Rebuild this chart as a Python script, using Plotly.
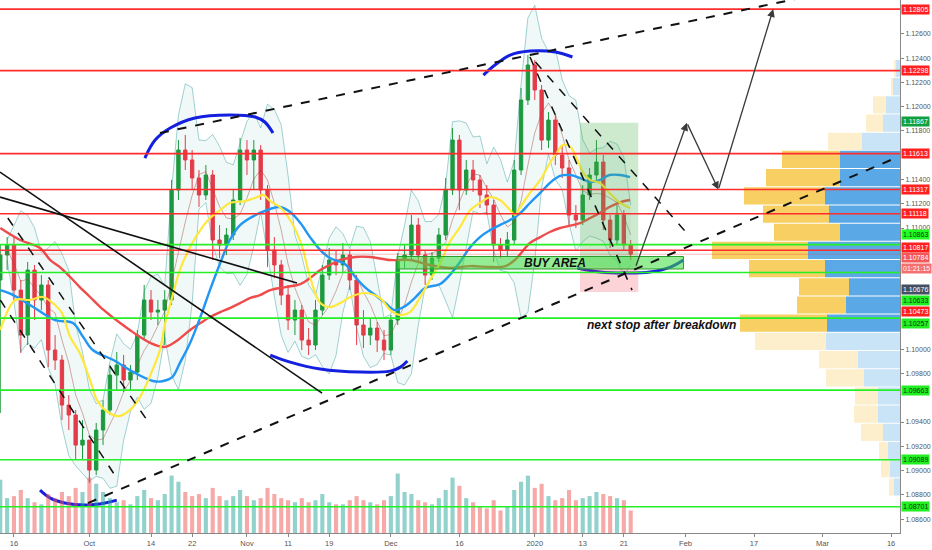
import plotly.graph_objects as go
import pandas as pd

# ---------------- data ----------------
# x = trading-day number counted from 2019-09-16 (weekends/holidays skipped)
day = list(range(-2, 91))

close = [
    1.10777, 1.10860,
    1.10488, 1.10117, 1.10653, 1.10406, 1.10530, 1.09994, 1.09911, 1.09540, 1.09458, 1.09210,
    1.09251, 1.09004, 1.09334, 1.09499, 1.09787, 1.09870, 1.09746, 1.09812, 1.10117, 1.10406,
    1.10307, 1.10323, 1.10406, 1.11313, 1.11643, 1.11561, 1.11412, 1.11272, 1.11437, 1.10901,
    1.10860, 1.10942, 1.11231, 1.11643, 1.11561, 1.11643, 1.11313, 1.10818, 1.10695, 1.10447,
    1.10241, 1.10323, 1.10076, 1.10035, 1.10323, 1.10612, 1.10736, 1.10695, 1.10777, 1.10571,
    1.10200, 1.10117, 1.10175, 1.10076, 1.09994, 1.10241, 1.10736, 1.10777, 1.11024, 1.10777,
    1.10612, 1.10752, 1.10942, 1.11313, 1.11725, 1.11313, 1.11478, 1.11396, 1.11272, 1.11189,
    1.10860, 1.10818, 1.10901, 1.11478, 1.12055, 1.12344, 1.12138, 1.11725, 1.11890, 1.11602,
    1.11495, 1.11107, 1.11066, 1.11272, 1.11437, 1.11544, 1.11066, 1.10901, 1.11107, 1.10860,
    1.10784]
high = [
    1.10860, 1.10925,
    1.10925, 1.10571, 1.10720, 1.10695, 1.10612, 1.10571, 1.10117, 1.09953, 1.09622, 1.09499,
    1.09416, 1.09251, 1.09392, 1.09581, 1.09870, 1.09977, 1.09953, 1.09870, 1.10159, 1.10530,
    1.10488, 1.10406, 1.10488, 1.11396, 1.11725, 1.11767, 1.11643, 1.11478, 1.11519, 1.11478,
    1.11024, 1.11000, 1.11313, 1.11742, 1.11725, 1.11725, 1.11684, 1.11354, 1.10925, 1.10736,
    1.10530, 1.10406, 1.10365, 1.10175, 1.10406, 1.10695, 1.10835, 1.10818, 1.10876, 1.10818,
    1.10612, 1.10323, 1.10257, 1.10225, 1.10159, 1.10282, 1.10794, 1.10860, 1.11107, 1.11082,
    1.10818, 1.10802, 1.11000, 1.11412, 1.11824, 1.11767, 1.11561, 1.11561, 1.11437, 1.11354,
    1.11231, 1.10917, 1.10967, 1.11561, 1.12154, 1.12426, 1.12385, 1.12179, 1.11956, 1.11932,
    1.11684, 1.11561, 1.11189, 1.11354, 1.11495, 1.11725, 1.11602, 1.11107, 1.11189, 1.11148,
    1.10901]
low = [
    1.09474, 1.10653,
    1.10406, 1.09969, 1.10035, 1.10241, 1.10323, 1.09853, 1.09829, 1.09416, 1.09334, 1.09087,
    1.09087, 1.08897, 1.08963, 1.09210, 1.09458, 1.09664, 1.09647, 1.09664, 1.09746, 1.10076,
    1.10241, 1.10200, 1.10035, 1.10365, 1.11231, 1.11478, 1.11313, 1.11173, 1.11231, 1.10736,
    1.10752, 1.10777, 1.10901, 1.11189, 1.11437, 1.11313, 1.11231, 1.10678, 1.10587, 1.10365,
    1.10159, 1.10117, 1.09994, 1.09953, 1.09994, 1.10282, 1.10571, 1.10612, 1.10637, 1.10488,
    1.10035, 1.10010, 1.10035, 1.09977, 1.09911, 1.09953, 1.10200, 1.10670, 1.10736, 1.10720,
    1.10530, 1.10571, 1.10720, 1.10901, 1.11272, 1.11148, 1.11272, 1.11297, 1.11165, 1.11107,
    1.10720, 1.10752, 1.10761, 1.10860, 1.11437, 1.12014, 1.12055, 1.11643, 1.11659, 1.11519,
    1.11412, 1.11024, 1.11000, 1.11024, 1.11231, 1.11396, 1.10983, 1.10835, 1.10860, 1.10818,
    1.10736]
first_open = 1.10571
volume = [
    52, 34,
    36, 42, 34, 30, 28, 38, 34, 40, 36, 44,
    40, 54, 48, 40, 34, 30, 32, 28, 36, 42,
    34, 32, 38, 56, 50, 40, 36, 38, 34, 44,
    36, 32, 36, 42, 36, 32, 34, 44, 38, 34,
    32, 30, 34, 30, 32, 38, 30, 28, 28, 32,
    36, 32, 30, 28, 32, 36, 58, 40, 38, 32,
    30, 28, 34, 42, 54, 46, 34, 30, 26, 24,
    32, 22, 26, 42, 50, 56, 44, 48, 36, 32,
    34, 42, 32, 34, 36, 40, 38, 36, 34, 32,
    22]

# moving averages (day, price)
yellow_day = [-2.0, 0.2, 2.3, 4.2, 6.0, 7.0, 8.2, 9.6, 11.1, 12.1, 13.3, 15.2, 16.9, 18.4, 19.9, 21.3,
              22.0, 23.1, 24.2, 25.7, 27.2, 28.6, 30.1, 31.5, 33.7, 35.5, 36.4, 37.4, 38.8, 40.3,
              41.3, 42.2, 43.2, 44.7, 46.1, 47.6, 49.1, 51.2, 53.4, 54.9, 56.4, 57.8, 59.3, 60.7,
              62.2, 63.6, 65.1, 66.6, 68.0, 69.5, 70.9, 72.4, 73.1, 73.9, 75.3, 76.8, 78.2, 79.3,
              80.1, 81.2, 82.2, 83.1, 84.1, 85.5, 86.9, 88.5, 89.9]
yellow_val = [1.10159, 1.10406, 1.10406, 1.10431, 1.10365, 1.10299, 1.10101, 1.09969, 1.09746, 1.09581,
              1.09499, 1.09449, 1.09499, 1.09606, 1.09787, 1.09994, 1.10200, 1.10431, 1.10653, 1.10843,
              1.10983, 1.11082, 1.11148, 1.11206, 1.11222, 1.11255, 1.11272, 1.11222, 1.11173, 1.11066,
              1.10958, 1.10818, 1.10596, 1.10381, 1.10348, 1.10381, 1.10431, 1.10464, 1.10423, 1.10323,
              1.10282, 1.10307, 1.10431, 1.10571, 1.10711, 1.10884, 1.11008, 1.11148, 1.11206, 1.11255,
              1.11231, 1.11148, 1.11107, 1.11173, 1.11289, 1.11396, 1.11536, 1.11627, 1.11684, 1.11668,
              1.11561, 1.11453, 1.11396, 1.11371, 1.11289, 1.11206, 1.11165]
blue_day = [-2.0, -0.1, 2.8, 6.0, 8.6, 10.1, 11.5, 14.5, 17.4, 20.3, 21.8, 23.1, 24.2, 25.7, 27.2,
            28.6, 30.1, 31.5, 33.0, 35.9, 38.8, 40.3, 41.8, 43.2, 44.7, 46.1, 48.3, 49.8, 51.2,
            52.7, 54.2, 55.6, 57.1, 58.5, 60.0, 62.2, 63.6, 65.1, 66.6, 68.0, 69.5, 70.9, 72.4,
            73.9, 75.3, 76.8, 78.2, 79.7, 81.2, 82.6, 84.1, 85.5, 86.9, 88.5, 89.9]
blue_val = [1.10488, 1.10447, 1.10348, 1.10241, 1.10216, 1.10101, 1.09994, 1.09911, 1.09812, 1.09738,
            1.09738, 1.09771, 1.09886, 1.10052, 1.10266, 1.10488, 1.10711, 1.10901, 1.11024, 1.11124,
            1.11173, 1.11132, 1.11041, 1.10925, 1.10818, 1.10752, 1.10703, 1.10596, 1.10513, 1.10447,
            1.10381, 1.10323, 1.10356, 1.10423, 1.10505, 1.10538, 1.10612, 1.10720, 1.10843, 1.10925,
            1.10983, 1.11024, 1.11066, 1.11124, 1.11206, 1.11289, 1.11371, 1.11429, 1.11437, 1.11412,
            1.11379, 1.11396, 1.11437, 1.11437, 1.11420]
red_day = [-2.0, 0.9, 3.8, 5.3, 6.7, 8.2, 9.6, 11.1, 12.6, 14.0, 15.5, 16.9, 18.4, 19.9, 22.0, 23.5,
           25.7, 27.2, 28.6, 30.1, 31.5, 33.0, 34.5, 35.9, 37.4, 39.6, 41.8, 43.2, 44.7, 46.1, 47.6,
           49.8, 52.0, 54.9, 57.8, 60.7, 63.6, 66.6, 69.5, 71.7, 73.1, 75.3, 76.8, 78.2, 79.7, 82.6,
           84.1, 85.5, 86.9, 88.5, 89.9]
red_val = [1.11000, 1.10901, 1.10835, 1.10736, 1.10678, 1.10596, 1.10513, 1.10431, 1.10348, 1.10282,
           1.10216, 1.10159, 1.10101, 1.10052, 1.10019, 1.10060, 1.10159, 1.10216, 1.10266, 1.10307,
           1.10340, 1.10381, 1.10423, 1.10447, 1.10488, 1.10513, 1.10538, 1.10587, 1.10653, 1.10695,
           1.10736, 1.10761, 1.10761, 1.10736, 1.10736, 1.10695, 1.10670, 1.10686, 1.10678, 1.10686,
           1.10736, 1.10876, 1.10925, 1.10967, 1.11000, 1.11041, 1.11082, 1.11124, 1.11173, 1.11214,
           1.11231]

# horizontal levels
red_levels = [1.12805, 1.12298, 1.11613, 1.11317, 1.11118, 1.10817]
green_levels = [1.10863, 1.10633, 1.10257, 1.09663, 1.09089, 1.08701]
last_price = 1.10784
entry, target, stop = 1.10676, 1.11867, 1.10473

# volume profile rows
vp_price = [1.12315, 1.12165, 1.12015, 1.11865, 1.11715, 1.11565, 1.11415, 1.11265, 1.11115, 1.10965,
            1.10815, 1.10665, 1.10515, 1.10365, 1.10215, 1.10065, 1.09915, 1.09765, 1.09615, 1.09465,
            1.09315, 1.09165, 1.09015, 1.08865]
vp_up = [4, 7, 14, 17, 38, 60, 60, 75, 71, 60, 92, 75, 51, 54, 73, 74, 42, 36, 22, 22, 17, 12, 10, 6]
vp_down = [2, 2, 13, 17, 34, 58, 74, 81, 66, 66, 96, 76, 50, 49, 87, 71, 39, 38, 23, 24, 22, 9, 9, 5]
vp_in_value_area = [False] * 5 + [True] * 10 + [False] * 9

# axis ticks
x_tick_days = [0, 11, 20, 26, 34, 40, 46, 55, 65, 76, 83, 89, 98, 108, 118, 128]
x_tick_text = ["16", "Oct", "14", "22", "Nov", "11", "19", "Dec", "16", "2020", "13", "21",
               "Feb", "17", "Mar", "16"]
y_tick_vals = [1.126, 1.124, 1.122, 1.120, 1.118, 1.114, 1.112, 1.110, 1.100, 1.098,
               1.094, 1.092, 1.090, 1.088, 1.086]

# drawings (day, price)
arc_oct_top = ([19.1, 20.6, 22.8, 26.4, 31.5, 35.2, 36.6, 37.8],
               [1.11577, 1.11725, 1.11824, 1.11907, 1.11932, 1.11915, 1.11874, 1.11783])
arc_jan_top = ([68.5, 70.2, 72.4, 75.3, 79.0, 81.5],
               [1.12261, 1.12344, 1.12426, 1.12459, 1.12451, 1.12410])
arc_nov_low = ([37.4, 40.3, 44.7, 50.5, 54.9, 56.4, 57.4],
               [1.09952, 1.09894, 1.09837, 1.09812, 1.09820, 1.09853, 1.09903])
arc_oct_low = ([3.8, 5.3, 7.4, 10.4, 13.3, 15.0],
               [1.08839, 1.08773, 1.08732, 1.08715, 1.08732, 1.08756])
arc_jan_low = ([82.2, 85.5, 89.2, 92.8, 95.8, 97.7],
               [1.10670, 1.10637, 1.10629, 1.10637, 1.10678, 1.10736])
projection_day = [90.7, 98.2, 102.8, 110.8]
projection_price = [entry, target, 1.11317, 1.12805]

# ---------------- derived ----------------
open_ = [first_open] + close[:-1]
s = pd.Series(close)
bb_mid = s.rolling(5, min_periods=2).mean()
bb_sd = s.rolling(5, min_periods=2).std(ddof=0)
bb_up = bb_mid + 2 * bb_sd
bb_lo = bb_mid - 2 * bb_sd

Y_RANGE = [1.08485, 1.12880]
X_RANGE = [-2.04, 129.3]

fig = go.Figure()

# Bollinger band
fig.add_trace(go.Scatter(x=day, y=bb_up, mode="lines", line=dict(color="rgba(0,128,128,0.45)", width=0.8),
                         hoverinfo="skip", showlegend=False))
fig.add_trace(go.Scatter(x=day, y=bb_lo, mode="lines", line=dict(color="rgba(0,128,128,0.45)", width=0.8),
                         fill="tonexty", fillcolor="rgba(0,150,136,0.06)", hoverinfo="skip", showlegend=False))

fig.add_trace(go.Candlestick(
    x=day, open=open_, high=high, low=low, close=close,
    increasing=dict(line=dict(color="#1f9a3a", width=1), fillcolor="#1f9a3a"),
    decreasing=dict(line=dict(color="#f23645", width=1), fillcolor="#f23645"),
    whiskerwidth=0, showlegend=False))

fig.add_trace(go.Scatter(x=day, y=bb_mid, mode="lines", line=dict(color="rgba(160,60,50,0.55)", width=0.8),
                         showlegend=False))
fig.add_trace(go.Scatter(x=red_day, y=red_val, mode="lines", line=dict(color="#ef4b4b", width=2.4, shape="spline"),
                         showlegend=False))
fig.add_trace(go.Scatter(x=blue_day, y=blue_val, mode="lines", line=dict(color="#2196f3", width=2.4, shape="spline"),
                         showlegend=False))
fig.add_trace(go.Scatter(x=yellow_day, y=yellow_val, mode="lines", line=dict(color="#ffe83b", width=2.2, shape="spline"),
                         showlegend=False))

for arc in [arc_oct_top, arc_jan_top, arc_nov_low, arc_oct_low, arc_jan_low]:
    fig.add_trace(go.Scatter(x=arc[0], y=arc[1], mode="lines",
                             line=dict(color="#1420e0", width=3, shape="spline"), showlegend=False))

# volume bars (own axis at the bottom)
vol_colors = ["rgba(38,166,154,0.5)" if c >= o else "rgba(239,83,80,0.5)" for o, c in zip(open_, close)]
fig.add_trace(go.Bar(x=day, y=volume, marker=dict(color=vol_colors, line=dict(width=0)),
                     yaxis="y2", width=0.6, showlegend=False))

# volume profile (own reversed x axis, anchored at the right)
up_col = ["#5aa9e6" if v else "#c9e3f7" for v in vp_in_value_area]
dn_col = ["#f8cf62" if v else "#fdefcb" for v in vp_in_value_area]
fig.add_trace(go.Bar(y=vp_price, x=vp_up, base=[0] * len(vp_up), orientation="h", xaxis="x2",
                     width=0.00142, marker=dict(color=up_col, line=dict(width=0)), showlegend=False))
fig.add_trace(go.Bar(y=vp_price, x=vp_down, base=vp_up, orientation="h", xaxis="x2",
                     width=0.00142, marker=dict(color=dn_col, line=dict(width=0)), showlegend=False))

shapes = []
# position boxes and buy area
shapes.append(dict(type="rect", xref="x", yref="y", x0=82.6, x1=91.1, y0=entry, y1=target,
                   fillcolor="rgba(76,175,80,0.28)", line=dict(width=0), layer="above"))
shapes.append(dict(type="rect", xref="x", yref="y", x0=82.6, x1=91.1, y0=stop, y1=entry,
                   fillcolor="rgba(242,54,69,0.22)", line=dict(width=0), layer="above"))
shapes.append(dict(type="rect", xref="x", yref="y", x0=55.9, x1=97.7, y0=1.10662, y1=1.10765,
                   fillcolor="rgba(60,220,60,0.55)", line=dict(color="#2a9d2a", width=1), layer="above"))
for lv in red_levels:
    shapes.append(dict(type="line", xref="paper", yref="y", x0=0, x1=1, y0=lv, y1=lv,
                       line=dict(color="#ff2d2d", width=1.6), layer="above"))
for lv in green_levels:
    shapes.append(dict(type="line", xref="paper", yref="y", x0=0, x1=1, y0=lv, y1=lv,
                       line=dict(color="#25ef25", width=1.6), layer="above"))
shapes.append(dict(type="line", xref="paper", yref="y", x0=0, x1=1, y0=last_price, y1=last_price,
                   line=dict(color="rgba(242,54,69,0.35)", width=1), layer="above"))

# trend lines
solid_lines = [(-2.04, 1.11461, 44.96, 1.09639), (-2.04, 1.11255, 41.3, 1.10546)]
for x0, y0, x1, y1 in solid_lines:
    shapes.append(dict(type="line", xref="x", yref="y", x0=x0, y0=y0, x1=x1, y1=y1,
                       line=dict(color="#111111", width=1.6), layer="above"))
channel_lines = [(21.3, 1.11783, 129.3, 1.1307), (10.8, 1.08732, 128.3, 1.11569)]
for x0, y0, x1, y1 in channel_lines:
    shapes.append(dict(type="line", xref="x", yref="y", x0=x0, y0=y0, x1=x1, y1=y1,
                       line=dict(color="#111111", width=2, dash="dash"), layer="above"))
thin_dash = [(-0.9, 1.11082, 19.6, 1.09400), (-2.0, 1.10406, 14.7, 1.08963),
             (75.3, 1.12410, 90.2, 1.10488), (76.1, 1.12369, 98.7, 1.10925)]
for x0, y0, x1, y1 in thin_dash:
    shapes.append(dict(type="line", xref="x", yref="y", x0=x0, y0=y0, x1=x1, y1=y1,
                       line=dict(color="#111111", width=1.5, dash="dash"), layer="above"))

annotations = []
# projection arrows
for i in range(3):
    annotations.append(dict(x=projection_day[i + 1], y=projection_price[i + 1], ax=projection_day[i],
                            ay=projection_price[i], xref="x", yref="y", axref="x", ayref="y",
                            text="", showarrow=True, arrowhead=2, arrowsize=1.2, arrowwidth=1.3,
                            arrowcolor="#3a3a3a", standoff=0))
annotations.append(dict(x=79.0, y=1.10713, xref="x", yref="y", text="BUY AREA", showarrow=False,
                        font=dict(family="Liberation Sans", size=12, color="#111", weight="bold", style="italic")))
annotations.append(dict(x=105.7, y=1.10200, xref="x", yref="y", xanchor="right", text="next stop after breakdown",
                        showarrow=False,
                        font=dict(family="Liberation Sans", size=12, color="#111", weight="bold", style="italic")))

# price labels on the right axis
label_vals = [1.12805, 1.12298, 1.11867, 1.11613, 1.11317, 1.11118, 1.10863, 1.10817, 1.10784,
              1.10676, 1.10633, 1.10473, 1.10257, 1.09663, 1.09089, 1.08701]
label_bg = ["#ff2020", "#ff2020", "#10a040", "#ff2020", "#ff2020", "#ff2020", "#22ff22", "#ff2020",
            "#f25a5a", "#434f63", "#22ee22", "#ff2020", "#22ee22", "#22ee22", "#22ee22", "#22ee22"]
label_fg = ["white", "white", "white", "white", "white", "white", "#113311", "white",
            "white", "white", "#113311", "white", "#113311", "#113311", "#113311", "#113311"]
label_shift = [0, 0, 1, 0, 0, 0, 10, 3, -3, -22, -28, -20, -5, 0, 0, 0]
for v, bg, fg, sh in zip(label_vals, label_bg, label_fg, label_shift):
    annotations.append(dict(x=1, xref="paper", y=v, yref="y", yshift=sh, xanchor="left", xshift=1,
                            text=f"{v:.5f}", showarrow=False, bgcolor=bg, borderpad=1,
                            font=dict(family="Liberation Sans", size=7, color=fg)))
annotations.append(dict(x=1, xref="paper", y=last_price, yref="y", yshift=-14, xanchor="left", xshift=1,
                        text="01:21:15", showarrow=False, bgcolor="#f47070", borderpad=1,
                        font=dict(family="Liberation Sans", size=7, color="white")))

fig.update_layout(
    width=932, height=550,
    margin=dict(l=0, r=32, t=0, b=17, autoexpand=False),
    paper_bgcolor="white", plot_bgcolor="white",
    showlegend=False, barmode="overlay",
    shapes=shapes, annotations=annotations,
    xaxis=dict(range=X_RANGE, tickvals=x_tick_days, ticktext=x_tick_text, showgrid=False, zeroline=False,
               showline=True, linecolor="#888", ticks="outside", ticklen=3, tickcolor="#888",
               tickfont=dict(family="Liberation Sans", size=7.5, color="#555"),
               rangeslider=dict(visible=False), fixedrange=True),
    yaxis=dict(range=Y_RANGE, side="right", tickvals=y_tick_vals, tickformat=".5f", showgrid=False,
               zeroline=False, showline=True, linecolor="#888", ticks="outside", ticklen=3, tickcolor="#888",
               tickfont=dict(family="Liberation Sans", size=7, color="#555")),
    yaxis2=dict(range=[0, 520], overlaying="y", visible=False, fixedrange=True),
    xaxis2=dict(range=[900, 0], overlaying="x", visible=False, fixedrange=True),
)

fig.write_html("out.html", config={"displayModeBar": False},
               post_script="document.body.style.margin='0';document.body.style.padding='0';"
                           "document.body.style.overflow='hidden';")
